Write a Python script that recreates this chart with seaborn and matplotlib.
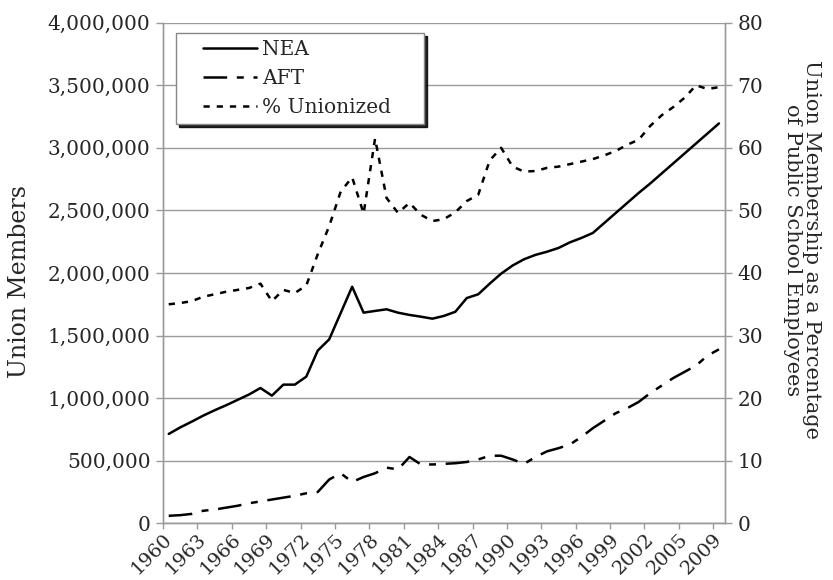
import numpy as np
import matplotlib
matplotlib.use('Agg')
import matplotlib.pyplot as plt
from matplotlib.ticker import FuncFormatter, MultipleLocator
from matplotlib.legend_handler import HandlerLine2D
import seaborn as sns


# categories (2008 is not in the series)
years = list(range(1960, 2008)) + [2009]

tickLabels = ['1960', '1963', '1966', '1969', '1972', '1975', '1978', '1981', '1984',
              '1987', '1990', '1993', '1996', '1999', '2002', '2005', '2009']

# NEA members
nea = [714000, 766000, 812000, 860000, 903000, 943000, 986000, 1029000, 1081000, 1020000,
       1108000, 1108000, 1172000, 1380000, 1470000, 1680000, 1890000, 1683000, 1697000, 1710000,
       1683000, 1665000, 1651000, 1635000, 1657000, 1690000, 1800000, 1830000, 1915000, 1995000,
       2060000, 2110000, 2145000, 2170000, 2200000, 2245000, 2280000, 2320000, 2400000, 2480000,
       2560000, 2640000, 2715000, 2795000, 2875000, 2955000, 3035000, 3115000, 3195000]

# AFT members
aft = [60000, 65000, 75000, 100000, 110000, 125000, 140000, 160000, 175000, 190000,
       205000, 220000, 240000, 250000, 350000, 400000, 330000, 370000, 400000, 445000,
       430000, 530000, 470000, 470000, 475000, 480000, 490000, 510000, 540000, 540000,
       510000, 475000, 530000, 575000, 600000, 630000, 690000, 760000, 820000, 880000,
       920000, 970000, 1040000, 1100000, 1160000, 1210000, 1260000, 1340000, 1390000]

# % of public school employees unionized
pctUnion = [35.0, 35.2, 35.5, 36.2, 36.6, 37.0, 37.3, 37.6, 38.3, 35.5,
            37.3, 36.8, 38.0, 43.0, 47.5, 53.0, 55.3, 49.5, 61.5, 52.0,
            49.6, 51.2, 49.3, 48.3, 48.6, 49.7, 51.5, 52.5, 58.0, 60.0,
            57.0, 56.2, 56.3, 56.8, 57.0, 57.4, 57.8, 58.2, 58.8, 59.5,
            60.5, 61.3, 63.5, 65.2, 66.5, 68.0, 70.0, 69.4, 69.7]


sns.set_style('white')
plt.rcParams['font.family'] = ['DejaVu Serif']
plt.rcParams['lines.scale_dashes'] = False

GREY = '#9a9a9a'

fig = plt.figure(figsize=(8.33, 5.8), dpi=100)
ax = fig.add_axes([163 / 833, 56.7 / 580, 561.7 / 833, 500.6 / 580])
ax2 = ax.twinx()

x = np.arange(len(years))

sns.lineplot(x=x, y=nea, ax=ax, color='black', linewidth=1.8, label='NEA', legend=False)
sns.lineplot(x=x, y=aft, ax=ax, color='black', linewidth=1.8, label='AFT', legend=False,
             linestyle=(0, (17, 7, 5, 7)))
sns.lineplot(x=x, y=pctUnion, ax=ax2, color='black', linewidth=1.8, label='% Unionized',
             legend=False, linestyle=(0, (4.5, 5)))

# axes
ax.set_xlim(-0.5, len(years) - 0.5)
ax.set_ylim(0, 4000000)
ax2.set_ylim(0, 80)
ax.yaxis.set_major_locator(MultipleLocator(500000))
ax2.yaxis.set_major_locator(MultipleLocator(10))
ax.yaxis.set_major_formatter(FuncFormatter(lambda v, p: '{:,.0f}'.format(v)))

ax.set_xticks(np.arange(-0.5, len(years) - 1, 3))
ax.set_xticklabels(tickLabels, rotation=45, ha='right', rotation_mode='anchor')

ax.yaxis.grid(True, color=GREY, linewidth=1)
ax.set_axisbelow(True)

for a in (ax, ax2):
    a.spines['top'].set_visible(False)
    for s in ('left', 'right', 'bottom'):
        a.spines[s].set_color(GREY)
        a.spines[s].set_linewidth(1)

ax.tick_params(axis='y', direction='out', length=5, width=1, color=GREY,
               labelsize=14.5, left=True, pad=4)
ax.tick_params(axis='x', direction='out', length=4, width=1, color=GREY,
               labelsize=14, bottom=True, pad=1)
ax2.tick_params(axis='y', direction='out', length=5, width=1, color=GREY,
                labelsize=14.5, right=True, pad=4)

ax.set_xlabel('')
ax.set_ylabel('Union Members', fontsize=17, va='center')
ax.yaxis.set_label_coords(-0.256, 0.484)
ax2.set_ylabel('Union Membership as a Percentage\nof Public School Employees',
               fontsize=15, rotation=270, va='center', ha='center', linespacing=1.0)
ax2.yaxis.set_label_coords(1.138, 0.546)

# legend
lines = ax.get_lines() + ax2.get_lines()
handlerMap = {ln: HandlerLine2D(xpad=1.0) for ln in lines}
legX = (176 - 163) / 561.7
legTop = (523.3 - 33) / 500.6
legW = (424 - 176) / 561.7
leg = ax.legend(lines, [ln.get_label() for ln in lines], loc='upper left',
                bbox_to_anchor=(legX, legTop - 0.2, legW, 0.2), mode='expand',
                borderaxespad=0, fontsize=14.5, frameon=True, fancybox=False,
                framealpha=1, edgecolor='#888888', borderpad=0.34, labelspacing=0.5,
                handlelength=3.69, handletextpad=0.25, handler_map=handlerMap,
                shadow={'ox': 2.5, 'oy': -2.5, 'color': 'black', 'alpha': 0.85})
leg.get_frame().set_linewidth(1)
leg.remove()
ax2.add_artist(leg)

fig.savefig('out.png', dpi=100)
